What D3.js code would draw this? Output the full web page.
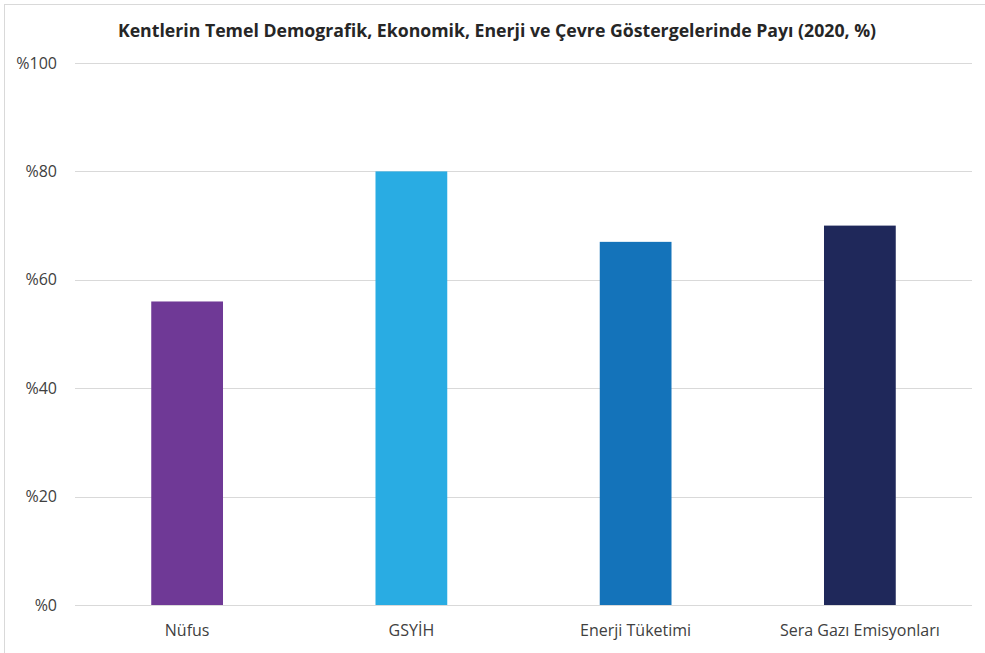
<!DOCTYPE html>
<html>
<head>
<meta charset="utf-8">
<script src="https://cdn.jsdelivr.net/npm/d3@7"></script>
<style>
  body { margin: 0; background: #fff; }
  svg { display: block; }
</style>
</head>
<body>
<div id="chart"></div>
<script>
const title = "Kentlerin Temel Demografik, Ekonomik, Enerji ve Çevre Göstergelerinde Payı (2020, %)";
const categories = ["Nüfus", "GSYİH", "Enerji Tüketimi", "Sera Gazı Emisyonları"];
const values = [56, 80, 67, 70];
const colors = ["#6f3996", "#29ace3", "#1473ba", "#1f285a"];
const yTicks = [0, 20, 40, 60, 80, 100];

const W = 985, H = 653;
const margin = { top: 63, right: 13, bottom: 48, left: 75 },
  width = W - margin.left - margin.right,
  height = H - margin.top - margin.bottom;

const font = "'Open Sans', sans-serif";

const root = d3.select("#chart").append("svg")
  .attr("width", W)
  .attr("height", H);

// çerçeve
root.append("rect")
  .attr("x", 4.5).attr("y", 4.5)
  .attr("width", W + 10).attr("height", H + 10)
  .attr("fill", "none")
  .attr("stroke", "#d9d9d9")
  .attr("stroke-width", 1);

root.append("text")
  .attr("x", 497)
  .attr("y", 37)
  .attr("text-anchor", "middle")
  .style("font-family", font)
  .style("font-weight", "bold")
  .style("font-size", "17.7px")
  .style("fill", "#262626")
  .text(title);

const svg = root.append("g")
  .attr("transform", `translate(${margin.left},${margin.top})`);

const x = d3.scaleBand()
  .range([0, width])
  .domain(categories)
  .paddingInner(0.68)
  .paddingOuter(0.34);

const y = d3.scaleLinear()
  .range([height, 0])
  .domain([0, 100]);

// yatay ızgara
svg.selectAll(".grid")
  .data(yTicks)
  .enter().append("line")
  .attr("class", "grid")
  .attr("x1", 0).attr("x2", width)
  .attr("y1", d => Math.round(y(d)) + 0.5)
  .attr("y2", d => Math.round(y(d)) + 0.5)
  .attr("stroke", "#d9d9d9")
  .attr("stroke-width", 1);

// y etiketleri
svg.selectAll(".ylabel")
  .data(yTicks)
  .enter().append("text")
  .attr("class", "ylabel")
  .attr("x", -18)
  .attr("y", d => y(d))
  .attr("dy", "0.35em")
  .attr("text-anchor", "end")
  .style("font-family", font)
  .style("font-size", "16px")
  .style("fill", "#404040")
  .text(d => "%" + d);

// sütunlar
svg.selectAll(".bar")
  .data(values)
  .enter().append("rect")
  .attr("class", "bar")
  .attr("x", (d, i) => x(categories[i]))
  .attr("y", d => y(d))
  .attr("width", x.bandwidth())
  .attr("height", d => height - y(d))
  .attr("fill", (d, i) => colors[i]);

// x etiketleri
svg.selectAll(".xlabel")
  .data(categories)
  .enter().append("text")
  .attr("class", "xlabel")
  .attr("x", d => x(d) + x.bandwidth() / 2)
  .attr("y", height + 31)
  .attr("text-anchor", "middle")
  .style("font-family", font)
  .style("font-size", "16px")
  .style("fill", "#404040")
  .text(d => d);
</script>
</body>
</html>
